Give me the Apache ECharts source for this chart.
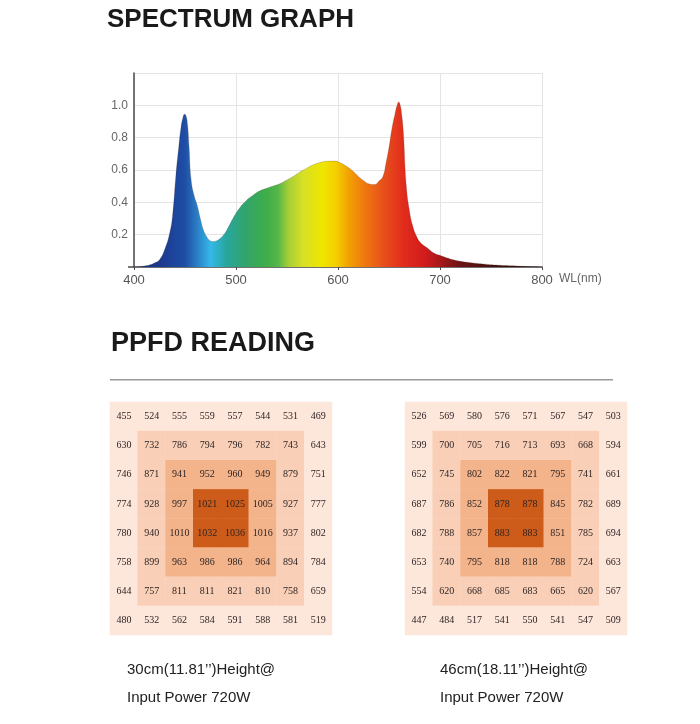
<!DOCTYPE html>
<html>
<head>
<meta charset="utf-8">
<script src="https://cdn.jsdelivr.net/npm/echarts@6/dist/echarts.min.js"></script>
<style>
html,body{margin:0;padding:0;background:#fff;}
#chart{width:700px;height:724px;}
</style>
</head>
<body>
<div id="chart"></div>
<script>
// Spectrum data (wavelength nm, relative intensity)
const wavelengths = [400,405,410,415,420,425,430,435,438,441,444,446,448,449.5,451,452.5,454,456,459,462,465,468,471,474,477,480,484,488,492,497,503,510,517,523,530,536,543,549,556,562,569,575,582,589,596,602,609,615,620,625,630,636,640,644,647,650,653,656,658,659.5,661,662.5,664,667,670,673,677,681,687,693,700,710,720,730,742,755,770,785,800];
const intensities = [0,0.002,0.006,0.012,0.025,0.045,0.107,0.21,0.33,0.56,0.75,0.86,0.925,0.945,0.935,0.88,0.74,0.54,0.44,0.38,0.30,0.23,0.19,0.165,0.158,0.16,0.175,0.2,0.24,0.3,0.36,0.41,0.445,0.47,0.487,0.5,0.515,0.535,0.56,0.585,0.61,0.63,0.645,0.654,0.655,0.645,0.62,0.59,0.56,0.535,0.515,0.51,0.53,0.56,0.64,0.74,0.86,0.95,1.0,1.02,1.0,0.94,0.84,0.5,0.35,0.26,0.19,0.15,0.12,0.09,0.072,0.05,0.036,0.027,0.019,0.012,0.007,0.003,0];

const xTicks = [400,500,600,700,800];
const yTicks = [0.2,0.4,0.6,0.8,1.0];

// PPFD readings, rows top to bottom
const ppfd30 = [
  [455,524,555,559,557,544,531,469],
  [630,732,786,794,796,782,743,643],
  [746,871,941,952,960,949,879,751],
  [774,928,997,1021,1025,1005,927,777],
  [780,940,1010,1032,1036,1016,937,802],
  [758,899,963,986,986,964,894,784],
  [644,757,811,811,821,810,758,659],
  [480,532,562,584,591,588,581,519]
];
const ppfd46 = [
  [526,569,580,576,571,567,547,503],
  [599,700,705,716,713,693,668,594],
  [652,745,802,822,821,795,741,661],
  [687,786,852,878,878,845,782,689],
  [682,788,857,883,883,851,785,694],
  [653,740,795,818,818,788,724,663],
  [554,620,668,685,683,665,620,567],
  [447,484,517,541,550,541,547,509]
];
const caption30 = ['30cm(11.81’’)Height@','Input Power 720W'];
const caption46 = ['46cm(18.11’’)Height@','Input Power 720W'];

const ringColors = ['#fde6da','#f9d0b7','#f4b48b','#cd5b19'];

function toCells(rows){
  const out = [];
  rows.forEach((row, r) => row.forEach((v, c) => {
    const ring = Math.min(r, c, 7 - r, 7 - c);
    out.push([c, r, v, ring]);
  }));
  return out;
}

const specStops = [
  [400,'#1a2d78'],[430,'#1c3d92'],[450,'#1f4ea6'],[462,'#2a7fc6'],[475,'#35b8e8'],
  [490,'#28a6a0'],[510,'#32a46a'],[530,'#3fae48'],[541,'#55b649'],[552,'#a9cf36'],
  [566,'#d8e025'],[585,'#efe600'],[598,'#f4cf00'],[610,'#f2a300'],[625,'#ef7b10'],
  [645,'#e84f1b'],[665,'#e02b1c'],[685,'#d21c1c'],[700,'#a8181a'],[720,'#6a1414'],
  [760,'#3c0f0f'],[800,'#2a0a0a']
];
const grad = new echarts.graphic.LinearGradient(0,0,1,0,
  specStops.map(s => ({offset:(s[0]-400)/400, color:s[1]})));

const idx = [0,1,2,3,4,5,6,7];
const chart = echarts.init(document.getElementById('chart'), null, {renderer:'canvas'});

const heatLabel = {
  show:true,
  formatter: p => String(p.value[2]),
  fontFamily:'Liberation Serif',
  fontSize:10,
  color:'#2e2424'
};

chart.setOption({
  animation:false,
  backgroundColor:'#ffffff',
  grid:[
    {left:134, right:158, top:73, bottom:457},
    {left:110, width:222, top:402, height:233},
    {left:405, width:222, top:402, height:233}
  ],
  xAxis:[
    {type:'value', gridIndex:0, min:400, max:800, interval:100,
     axisLine:{show:true, lineStyle:{color:'#4a4a4a', width:1.5}},
     axisTick:{show:true, length:3, lineStyle:{color:'#4a4a4a'}},
     axisLabel:{color:'#555', fontSize:13, margin:7, fontFamily:'Liberation Sans',
       formatter: v => xTicks.includes(v) ? String(v) : ''},
     splitLine:{show:true, lineStyle:{color:'#e4e4e4', width:1}}},
    {type:'category', gridIndex:1, data:idx, show:false},
    {type:'category', gridIndex:2, data:idx, show:false}
  ],
  yAxis:[
    {type:'value', gridIndex:0, min:0, max:1.2, interval:0.2,
     axisLine:{show:true, lineStyle:{color:'#4a4a4a', width:1.5}},
     axisTick:{show:false},
     axisLabel:{color:'#666', fontSize:12, margin:6, fontFamily:'Liberation Sans',
       formatter: v => yTicks.some(t => Math.abs(t - v) < 1e-6) ? v.toFixed(1) : ''},
     splitLine:{show:true, lineStyle:{color:'#e4e4e4', width:1}}},
    {type:'category', gridIndex:1, data:idx, inverse:true, show:false},
    {type:'category', gridIndex:2, data:idx, inverse:true, show:false}
  ],
  visualMap:{
    type:'piecewise', show:false, dimension:3, seriesIndex:[1,2],
    pieces:ringColors.map((c,i) => ({value:i, color:c}))
  },
  series:[
    {type:'line', xAxisIndex:0, yAxisIndex:0,
     data: wavelengths.map((w,i) => [w, intensities[i]]),
     smooth:0.5, showSymbol:false, symbol:'none',
     lineStyle:{width:0.6, color:'rgba(70,50,40,0.35)'},
     areaStyle:{color:grad, opacity:1}},
    {type:'heatmap', xAxisIndex:1, yAxisIndex:1, data:toCells(ppfd30),
     label:heatLabel, itemStyle:{borderWidth:0}, emphasis:{disabled:true}},
    {type:'heatmap', xAxisIndex:2, yAxisIndex:2, data:toCells(ppfd46),
     label:heatLabel, itemStyle:{borderWidth:0}, emphasis:{disabled:true}}
  ],
  graphic:[
    {type:'text', left:107, top:7, style:{text:'SPECTRUM GRAPH', fill:'#1a1a1a',
      font:'bold 26px "Liberation Sans", Arial, sans-serif'}},
    {type:'rect', shape:{x:128, y:266.25, width:6, height:1.5}, style:{fill:'#4a4a4a'}},
    {type:'text', left:559, top:273, style:{text:'WL(nm)', fill:'#666',
      font:'12px "Liberation Sans", Arial, sans-serif'}},
    {type:'text', left:111, top:330, style:{text:'PPFD READING', fill:'#1a1a1a',
      font:'bold 27px "Liberation Sans", Arial, sans-serif'}},
    {type:'rect', shape:{x:110, y:379, width:503, height:1.5}, style:{fill:'#9a9a9a'}},
    {type:'text', left:127, top:662, style:{text:caption30[0], fill:'#222',
      font:'15px "Liberation Sans", Arial, sans-serif'}},
    {type:'text', left:127, top:690, style:{text:caption30[1], fill:'#222',
      font:'15px "Liberation Sans", Arial, sans-serif'}},
    {type:'text', left:440, top:662, style:{text:caption46[0], fill:'#222',
      font:'15px "Liberation Sans", Arial, sans-serif'}},
    {type:'text', left:440, top:690, style:{text:caption46[1], fill:'#222',
      font:'15px "Liberation Sans", Arial, sans-serif'}}
  ]
});
</script>
</body>
</html>
